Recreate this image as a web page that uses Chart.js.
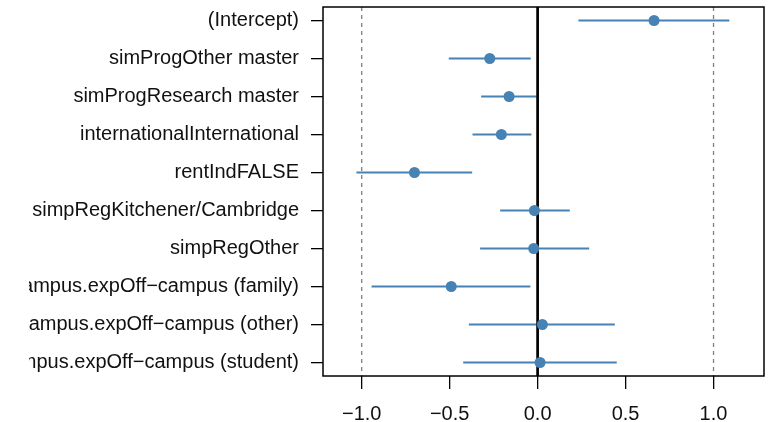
<!DOCTYPE html>
<html>
<head>
<meta charset="utf-8">
<script src="https://cdn.jsdelivr.net/npm/chart.js@4/dist/chart.umd.min.js"></script>
<style>
  html, body { margin: 0; padding: 0; background: #fff; }
  #wrap { width: 743px; height: 422px; margin-left: 29px; }
</style>
</head>
<body>
<div id="wrap"><canvas id="coefPlot"></canvas></div>
<script>
const terms = [
  '(Intercept)',
  'simProgOther master',
  'simProgResearch master',
  'internationalInternational',
  'rentIndFALSE',
  'simpRegKitchener/Cambridge',
  'simpRegOther',
  'off.campus.expOff\u2212campus (family)',
  'off.campus.expOff\u2212campus (other)',
  'off.campus.expOff\u2212campus (student)'
];
const estimates = [0.662, -0.272, -0.162, -0.206, -0.700, -0.018, -0.022, -0.491, 0.027, 0.014];
const lower     = [0.232, -0.505, -0.321, -0.370, -1.030, -0.213, -0.327, -0.944, -0.391, -0.423];
const upper     = [1.090, -0.039, -0.005, -0.035, -0.372, 0.183, 0.293, -0.041, 0.439, 0.450];
const xTicks = [-1, -0.5, 0, 0.5, 1];
const refLines = [-1, 1];
const zeroLine = 0;

document.addEventListener('DOMContentLoaded', () => {
  const canvas = document.getElementById('coefPlot');
  const blue = '#4682B4';
  const yMin = -0.355, yMax = 9.355;

  Chart.defaults.font.family = "'Liberation Sans', Arial, sans-serif";
  Chart.defaults.font.size = 20;
  Chart.defaults.color = '#111';

  // intervals as one broken line: lo, hi, gap
  const intervalPts = terms.flatMap((_, i) => [
    { x: lower[i], y: i },
    { x: upper[i], y: i },
    { x: NaN, y: NaN }
  ]);

  const frame = {
    id: 'frame',
    afterDatasetsDraw(chart) {
      const { ctx, chartArea: a } = chart;
      ctx.save();
      ctx.strokeStyle = '#000';
      ctx.lineWidth = 1.5;
      ctx.strokeRect(a.left, a.top, a.width, a.height);
      ctx.restore();
    }
  };

  const datasets = [
    {
      label: 'estimate',
      data: estimates.map((v, i) => ({ x: v, y: i })),
      backgroundColor: blue,
      borderColor: blue,
      pointRadius: 5.5,
      borderWidth: 0,
      showLine: false,
      order: 0
    },
    {
      label: 'zero',
      data: [{ x: zeroLine, y: yMin }, { x: zeroLine, y: yMax }],
      borderColor: '#000',
      borderWidth: 2.7,
      pointRadius: 0,
      showLine: true,
      order: 1
    },
    {
      label: 'interval',
      data: intervalPts,
      borderColor: blue,
      borderWidth: 1.8,
      pointRadius: 0,
      showLine: true,
      spanGaps: false,
      order: 2
    },
    ...refLines.map(v => ({
      label: 'ref ' + v,
      data: [{ x: v, y: yMin }, { x: v, y: yMax }],
      borderColor: '#808080',
      borderWidth: 1.3,
      borderDash: [4, 4],
      pointRadius: 0,
      showLine: true,
      order: 3
    }))
  ];

  new Chart(canvas, {
    type: 'scatter',
    data: { datasets },
    options: {
      responsive: true,
      maintainAspectRatio: false,
      animation: false,
      events: [],
      layout: { padding: { top: 7, right: 8, left: 0, bottom: 0 } },
      plugins: {
        legend: { display: false },
        tooltip: { enabled: false }
      },
      scales: {
        x: {
          type: 'linear',
          min: -1.22,
          max: 1.287,
          afterBuildTicks: (scale) => { scale.ticks = xTicks.map(v => ({ value: v })); },
          afterFit: (scale) => {
            scale.height = 46;
            scale.paddingLeft = 0;
            scale.paddingRight = 0;
          },
          ticks: {
            padding: 13,
            maxRotation: 0,
            callback: (v) => v.toFixed(1).replace('-', '\u2212')
          },
          grid: {
            drawOnChartArea: false,
            drawTicks: true,
            tickLength: 13,
            color: '#000',
            lineWidth: 1.3
          },
          border: { display: false }
        },
        y: {
          type: 'linear',
          reverse: true,
          min: yMin,
          max: yMax,
          afterBuildTicks: (scale) => { scale.ticks = terms.map((_, i) => ({ value: i })); },
          afterFit: (scale) => {
            scale.width = 294;
            scale.paddingTop = 0;
            scale.paddingBottom = 0;
          },
          ticks: {
            autoSkip: false,
            padding: 12,
            callback: (v) => terms[v]
          },
          grid: {
            drawOnChartArea: false,
            drawTicks: true,
            tickLength: 12,
            color: '#000',
            lineWidth: 1.3
          },
          border: { display: false }
        }
      }
    },
    plugins: [frame]
  });
});
</script>
</body>
</html>
